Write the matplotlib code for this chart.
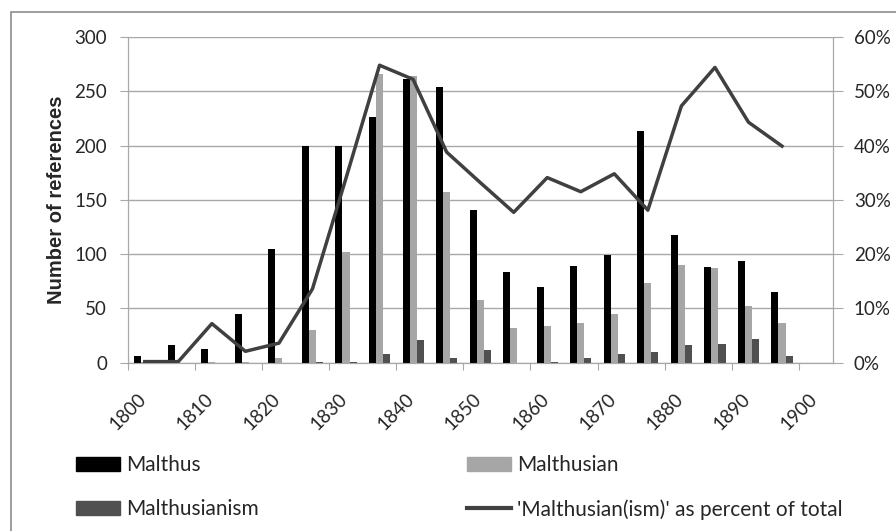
import numpy as np
import matplotlib.pyplot as plt
from matplotlib.patches import Rectangle, Patch
from matplotlib.lines import Line2D

plt.rcParams['font.family'] = ['Lato', 'DejaVu Sans']

# counts per 5-year period
years = [1800, 1805, 1810, 1815, 1820, 1825, 1830, 1835, 1840, 1845,
         1850, 1855, 1860, 1865, 1870, 1875, 1880, 1885, 1890, 1895]
malthus = [6, 16, 13, 45, 105, 200, 200, 226, 261, 254,
           141, 84, 70, 89, 99, 213, 118, 88, 94, 65]
malthusian = [1, 0, 1, 1, 4, 30, 102, 266, 264, 157,
              58, 32, 34, 37, 45, 73, 90, 87, 52, 37]
malthusianism = [0, 0, 0, 0, 0, 1, 1, 8, 21, 4,
                 12, 0, 1, 4, 8, 10, 16, 17, 22, 6]
pct = [0.2, 0.2, 7.2, 2.1, 3.6, 13.6, 34.0, 54.8, 52.2, 38.8,
       33.2, 27.7, 34.1, 31.5, 34.8, 28.1, 47.3, 54.4, 44.3, 39.9]

c_black = '#000000'
c_light = '#a6a6a6'
c_dark = '#505050'
c_line = '#404040'
c_grid = '#a8a8a8'
c_text = '#262626'
fs = 13.5

fig = plt.figure(figsize=(8.96, 5.31), dpi=100)
ax = fig.add_axes([128/896, 1-362.7/531, (833-128)/896, (362.7-37)/531])
ax2 = ax.twinx()

x = np.array(years) + 2.5
w = 1.05
ax.bar(x - w, malthus, w, color=c_black, zorder=3)
ax.bar(x, malthusian, w, color=c_light, zorder=3)
ax.bar(x + w, malthusianism, w, color=c_dark, zorder=3)
ax2.plot(x, pct, color=c_line, lw=2.5, zorder=4)

ax.set_xlim(1800, 1905.1)
ax.set_ylim(0, 300)
ax2.set_ylim(0, 60)
ax.set_yticks(range(0, 301, 50))
ax2.set_yticks(range(0, 61, 10))
ax2.set_yticklabels([f'{v}%' for v in range(0, 61, 10)])
ax.set_xticks(range(1800, 1901, 10))
ax.set_xticklabels([str(v) for v in range(1800, 1901, 10)], rotation=45,
                   ha='center', va='top')

ax.yaxis.grid(True, color=c_grid, lw=1, zorder=0)
ax.set_axisbelow(True)
for a in (ax, ax2):
    for s in a.spines.values():
        s.set_color(c_grid)
    a.spines['top'].set_visible(False)
ax.tick_params(axis='y', length=6, color=c_grid, labelsize=fs,
               labelcolor=c_text, pad=9)
ax.tick_params(axis='x', length=5, color=c_grid, labelsize=fs,
               labelcolor=c_text, pad=15)
ax2.tick_params(axis='y', length=7, color=c_grid, labelsize=fs,
                labelcolor=c_text, pad=8)

ax.set_ylabel('Number of references', fontsize=14.5, fontweight='bold',
              family=['Liberation Sans', 'DejaVu Sans'], color=c_text,
              labelpad=6)

leg_kw = dict(loc='upper left', frameon=False, fontsize=15,
              handlelength=2.1, handleheight=0.65, handletextpad=0.3,
              labelspacing=1.15, borderpad=0, borderaxespad=0,
              labelcolor=c_text)
fig.legend([Patch(color=c_black), Patch(color=c_dark)],
           ['Malthus', 'Malthusianism'],
           bbox_to_anchor=(76/896, 1-455/531), **leg_kw)
fig.legend([Patch(color=c_light), Line2D([], [], color=c_line, lw=3)],
           ['Malthusian', "'Malthusian(ism)' as percent of total"],
           bbox_to_anchor=(467/896, 1-455/531), **leg_kw)

fig.patches.append(Rectangle((11/896, -0.1), 1.2, 1 - 12/531 + 0.1,
                             transform=fig.transFigure, fill=False,
                             edgecolor='#8c8c8c', lw=1.2))

fig.savefig('out.png', dpi=100)
